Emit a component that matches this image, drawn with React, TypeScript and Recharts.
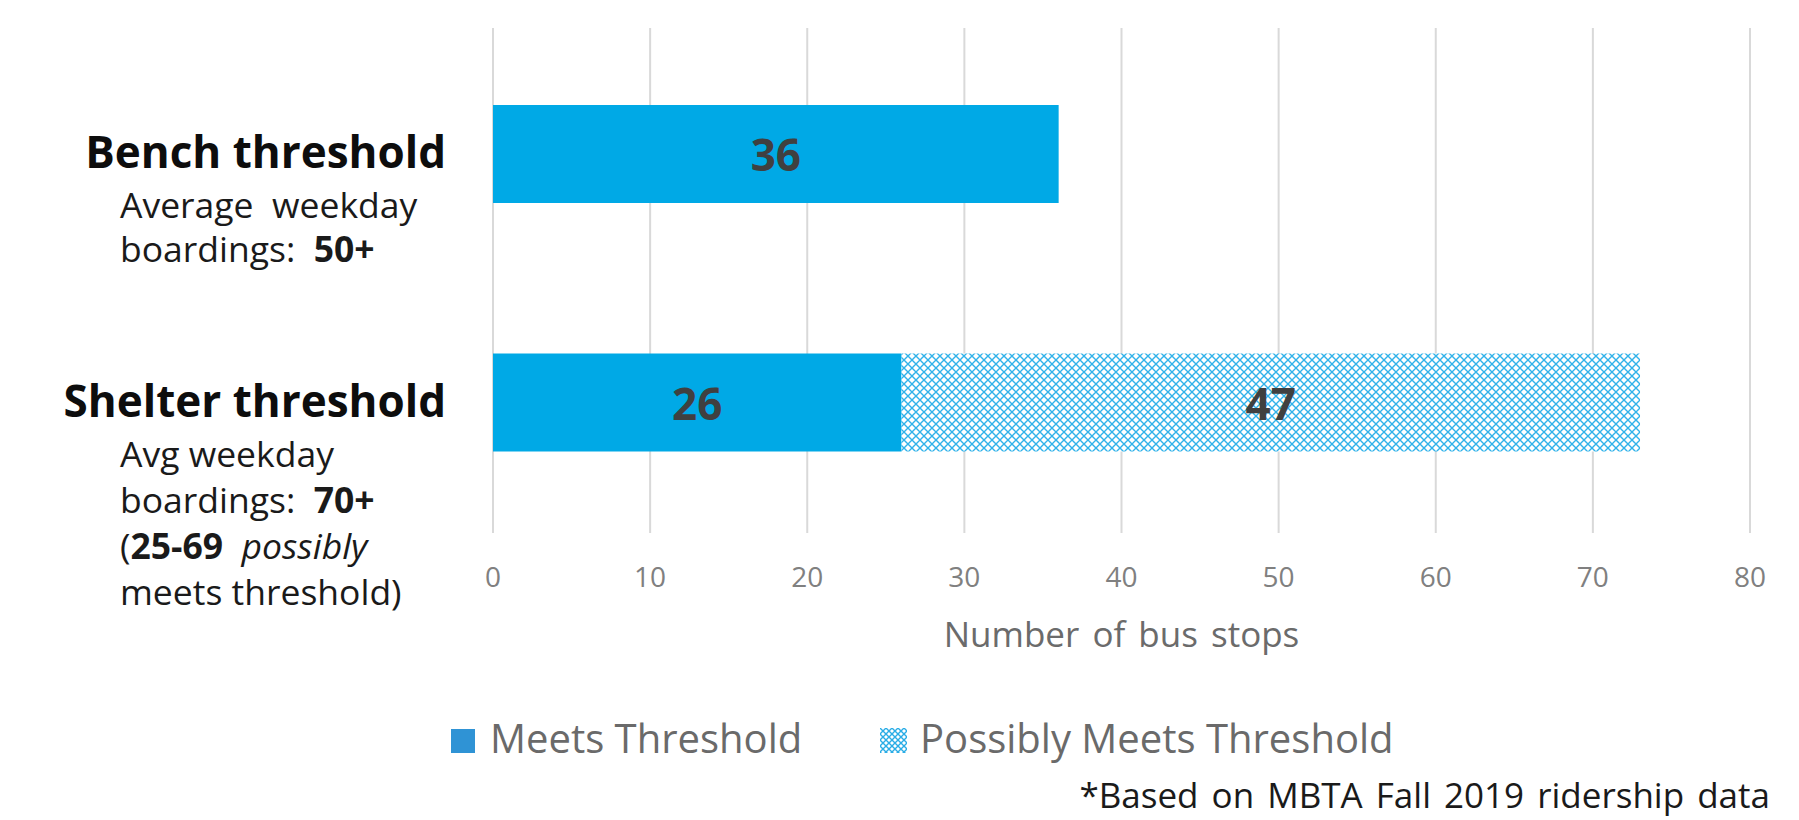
import React from 'react';
import { BarChart, Bar, XAxis, YAxis, CartesianGrid, LabelList, Label } from 'recharts';

const categories = ['Bench threshold', 'Shelter threshold'];
const meetsValues = [36, 26];
const possiblyValues: (number | null)[] = [null, 47];
const xTicks = [0, 10, 20, 30, 40, 50, 60, 70, 80];

type Seg = { t: string; b?: boolean; i?: boolean };
const benchLines: Seg[][] = [
  [{ t: 'Average  weekday' }],
  [{ t: 'boardings:  ' }, { t: '50+', b: true }],
];
const shelterLines: Seg[][] = [
  [{ t: 'Avg weekday' }],
  [{ t: 'boardings:  ' }, { t: '70+', b: true }],
  [{ t: '(' }, { t: '25-69', b: true }, { t: '  ' }, { t: 'possibly', i: true }],
  [{ t: 'meets threshold)' }],
];
const subLines = [benchLines, shelterLines];
const lineGaps = [44, 46];
const seriesNames = ['Meets Threshold', 'Possibly Meets Threshold'];
const footnote = '*Based on MBTA Fall 2019 ridership data';
const xTitle = 'Number of bus stops';

const data = categories.map((c, i) => ({
  name: c,
  meets: meetsValues[i],
  possibly: possiblyValues[i],
}));

const FONT = '"Open Sans", "Noto Sans", sans-serif';
const BLUE = '#00A9E6';

const YTick = (props: any) => {
  const { y, payload } = props;
  const idx = categories.indexOf(payload.value);
  const lines = subLines[idx] || [];
  const gap = lineGaps[idx] || 45;
  return (
    <g>
      <text x={446} y={y + 14} textAnchor="end" fontSize={44} fontWeight={700} fill="#0d0d0d" fontFamily={FONT}>
        {payload.value}
      </text>
      {lines.map((segs, i) => (
        <text key={i} x={120} y={y + 64 + i * gap} fontSize={35.5} fill="#1a1a1a" fontFamily={FONT} style={{ whiteSpace: 'pre' }}>
          {segs.map((s, j) => (
            <tspan key={j} fontWeight={s.b ? 700 : 400} fontStyle={s.i ? 'italic' : 'normal'}>
              {s.t}
            </tspan>
          ))}
        </text>
      ))}
    </g>
  );
};

const ValueLabel = (props: any) => {
  const { x, y, width, height, value } = props;
  if (value == null || value === 0) return null;
  return (
    <text
      x={x + width / 2}
      y={y + height / 2}
      textAnchor="middle"
      dominantBaseline="central"
      fontSize={44}
      fontWeight={700}
      fill="#404040"
      fontFamily={FONT}
    >
      {value}
    </text>
  );
};

const AxisTitle = (props: any) => {
  const { viewBox } = props;
  const cx = viewBox.x + viewBox.width / 2;
  return (
    <text x={cx} y={viewBox.y + 114} textAnchor="middle" fontSize={35} fill="#6b6b6b" fontFamily={FONT} wordSpacing={4}>
      {xTitle}
    </text>
  );
};

export default function App() {
  return (
    <div style={{ position: 'absolute', left: 0, top: 0, width: 1799, height: 820, background: '#fff' }}>
      <BarChart
        width={1799}
        height={820}
        data={data}
        layout="vertical"
        margin={{ top: 28, right: 49, left: 0, bottom: 157 }}
        barSize={98}
        style={{ fontFamily: FONT }}
      >
        <defs>
          <pattern id="diamondFill" width="8" height="8" patternUnits="userSpaceOnUse">
            <rect width="8" height="8" fill="#ffffff" />
            <path d="M0,0 L8,8 M8,0 L0,8" stroke="#30B2EA" strokeWidth={1.4} />
          </pattern>
        </defs>
        <CartesianGrid horizontal={false} vertical stroke="#d9d9d9" strokeWidth={2} />
        <XAxis
          type="number"
          domain={[0, 80]}
          ticks={xTicks}
          tickLine={false}
          axisLine={false}
          tickMargin={28}
          tick={{ fontSize: 28, fill: '#808080', fontFamily: FONT }}
          height={130}
          interval={0}
        >
          <Label content={<AxisTitle />} />
        </XAxis>
        <YAxis
          type="category"
          dataKey="name"
          width={493}
          tickLine={false}
          axisLine={false}
          tick={<YTick />}
          padding={{ top: 2, bottom: 6 }}
        />
        <Bar dataKey="meets" stackId="a" fill={BLUE} isAnimationActive={false} name={seriesNames[0]}>
          <LabelList dataKey="meets" content={<ValueLabel />} />
        </Bar>
        <Bar dataKey="possibly" stackId="a" fill="url(#diamondFill)" isAnimationActive={false} name={seriesNames[1]}>
          <LabelList dataKey="possibly" content={<ValueLabel />} />
        </Bar>
      </BarChart>
      <svg
        width={1799}
        height={820}
        style={{ position: 'absolute', left: 0, top: 0, pointerEvents: 'none' }}
      >
        <defs>
          <pattern id="legendDiamond" width="6" height="6" patternUnits="userSpaceOnUse" x="880" y="728">
            <rect width="6" height="6" fill="#ffffff" />
            <path d="M0,0 L6,6 M6,0 L0,6" stroke="#2AADE6" strokeWidth={1.4} />
          </pattern>
        </defs>
        <rect x={451} y={729} width={24} height={24} fill="#2F93D5" />
        <text x={490} y={753} fontSize={40} fill="#6a6a6a" fontFamily={FONT}>
          {seriesNames[0]}
        </text>
        <rect x={880} y={728} width={27} height={25} fill="url(#legendDiamond)" />
        <text x={920} y={753} fontSize={40} fill="#6a6a6a" fontFamily={FONT}>
          {seriesNames[1]}
        </text>
        <text x={1770} y={808} textAnchor="end" fontSize={35} fill="#1a1a1a" fontFamily={FONT} wordSpacing={4}>
          {footnote}
        </text>
      </svg>
    </div>
  );
}
